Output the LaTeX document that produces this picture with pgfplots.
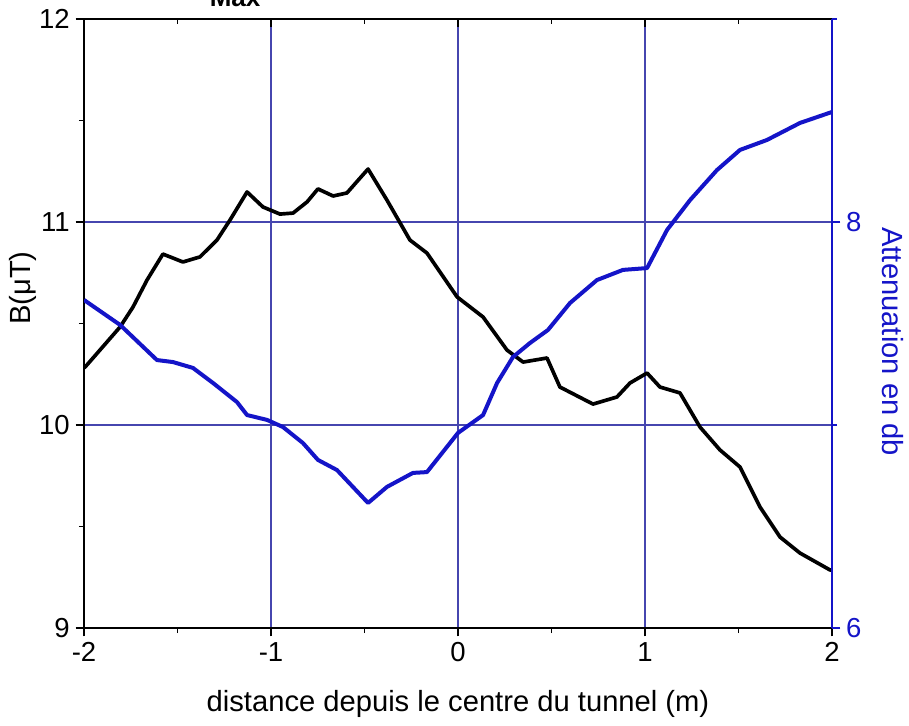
\documentclass[border=0pt]{standalone}
\usepackage{pgfplots}
\pgfplotsset{compat=1.18}
\usepackage{fontspec}
\setmainfont{Liberation Sans}
\usetikzlibrary{calc}
\definecolor{myblue}{RGB}{20,20,200}
\definecolor{gridblue}{RGB}{70,70,175}

\pgfplotstableread{
x y
-2.000 10.281
-1.984 10.296
-1.807 10.483
-1.738 10.581
-1.663 10.714
-1.578 10.842
-1.471 10.803
-1.380 10.828
-1.289 10.911
-1.219 11.010
-1.128 11.148
-1.043 11.074
-0.952 11.039
-0.882 11.044
-0.807 11.099
-0.749 11.163
-0.668 11.128
-0.594 11.143
-0.481 11.261
-0.380 11.108
-0.257 10.911
-0.166 10.847
-0.005 10.631
0.134 10.532
0.262 10.369
0.348 10.310
0.476 10.330
0.545 10.187
0.722 10.103
0.850 10.138
0.920 10.207
1.011 10.256
1.080 10.187
1.187 10.158
1.294 9.990
1.401 9.877
1.508 9.793
1.615 9.596
1.722 9.448
1.829 9.369
1.989 9.286
2.000 9.286
}\Bdata

\pgfplotstableread{
x y
-2.000 7.616
-1.807 7.493
-1.610 7.320
-1.524 7.310
-1.417 7.281
-1.310 7.207
-1.182 7.113
-1.128 7.049
-1.021 7.025
-0.936 6.990
-0.829 6.911
-0.749 6.828
-0.647 6.778
-0.481 6.616
-0.380 6.695
-0.241 6.764
-0.166 6.768
0.000 6.961
0.134 7.049
0.209 7.207
0.294 7.335
0.385 7.404
0.481 7.468
0.599 7.601
0.743 7.714
0.882 7.764
1.011 7.773
1.118 7.961
1.241 8.108
1.385 8.256
1.508 8.355
1.652 8.404
1.829 8.488
2.000 8.542
}\Adata

\begin{document}
\begin{tikzpicture}
\pgfplotsset{
  common/.style={
    width=448.8pt, height=365.4pt, scale only axis,
    xmin=-2, xmax=2,
    major tick length=5pt, minor tick length=3pt,
    tick label style={font=\fontsize{16.5}{19}\selectfont},
    label style={font=\fontsize{17.5}{20}\selectfont},
    /pgf/number format/assume math mode=true,
  }
}
\begin{axis}[common, name=ax,
  ymin=9, ymax=12,
  axis x line*=bottom, axis y line*=left,
  x axis line style={-, line width=1.2pt, black},
  y axis line style={-, line width=1.2pt, black},
  tick align=outside,
  tick style={black, line width=1pt},
  xtick={-2,-1,0,1,2}, xticklabels={-2,-1,0,1,2},
  minor xtick={-1.5,-0.5,0.5,1.5},
  ytick={9,10,11,12}, yticklabels={9,10,11,12},
  minor ytick={9.5,10.5,11.5},
  grid=major,
  major grid style={color=gridblue, line width=0.7pt},
  xlabel={distance depuis le centre du tunnel (m)},
  xlabel style={at={(axis description cs:0.5,-0.124)}, anchor=center},
  ylabel={B(μT)},
  ylabel style={at={(axis description cs:-0.082,0.558)}, anchor=center},
]
\addplot[black, line width=2.2pt, line join=round] table[x=x,y=y] {\Bdata};
\end{axis}
\begin{axis}[common,
  ymin=9, ymax=12,
  axis x line*=top, axis y line=none,
  x axis line style={-, line width=1.2pt, black},
  tick align=inside,
  tick style={black, line width=1pt},
  xtick={-2,-1,0,1,2}, xticklabels={},
  minor xtick={-1.5,-0.5,0.5,1.5},
]
\end{axis}
\begin{axis}[common,
  ymin=6, ymax=9,
  axis y line*=right, axis x line=none,
  y axis line style={-, line width=1.4pt, myblue},
  tick align=outside,
  tick style={myblue, line width=1pt},
  ytick={6,8}, yticklabels={6,8},
  minor ytick={7,9},
  yticklabel style={myblue},
  ylabel={Attenuation en db},
  ylabel style={myblue, at={(axis description cs:1.0815,0.47)}, anchor=center, rotate=180},
]
\addplot[myblue, line width=2.4pt, line join=round] table[x=x,y=y] {\Adata};
\end{axis}
\node[anchor=base, font=\bfseries\fontsize{15.6}{18}\selectfont] at ($(ax.north west)!0.202!(ax.north east)+(0,7.2pt)$) {Max};
\pgfresetboundingbox
\path[use as bounding box] ($(ax.south west)+(-50.4pt,-58.8pt)$) rectangle ($(ax.north east)+(46.2pt,11.4pt)$);
\end{tikzpicture}
\end{document}
